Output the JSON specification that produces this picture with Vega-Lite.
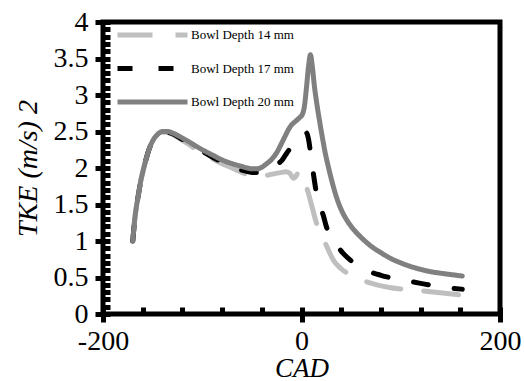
{
  "$schema": "https://vega.github.io/schema/vega-lite/v6.json",
  "width": 397,
  "height": 292,
  "autosize": {"type": "none"},
  "padding": {"left": 103, "top": 22, "right": 24, "bottom": 67},
  "config": {
    "font": "Liberation Serif",
    "view": {"stroke": "black", "strokeWidth": 5},
    "legend": {
      "orient": "none",
      "legendX": 12,
      "legendY": 3,
      "padding": 0,
      "symbolType": "stroke",
      "symbolSize": 4900,
      "symbolStrokeWidth": 5,
      "clipHeight": 20,
      "rowPadding": 13.5,
      "labelFont": "Liberation Serif",
      "labelFontSize": 13,
      "labelColor": "black",
      "labelOffset": 1
    }
  },
  "data": {
    "values": [
      {"series": "Bowl Depth 14 mm", "cad": -170, "tke": 1.00},
      {"series": "Bowl Depth 14 mm", "cad": -168, "tke": 1.30},
      {"series": "Bowl Depth 14 mm", "cad": -166, "tke": 1.50},
      {"series": "Bowl Depth 14 mm", "cad": -164, "tke": 1.66},
      {"series": "Bowl Depth 14 mm", "cad": -162, "tke": 1.82},
      {"series": "Bowl Depth 14 mm", "cad": -160, "tke": 1.94},
      {"series": "Bowl Depth 14 mm", "cad": -157, "tke": 2.10},
      {"series": "Bowl Depth 14 mm", "cad": -154, "tke": 2.24},
      {"series": "Bowl Depth 14 mm", "cad": -150, "tke": 2.37},
      {"series": "Bowl Depth 14 mm", "cad": -145, "tke": 2.46},
      {"series": "Bowl Depth 14 mm", "cad": -140, "tke": 2.49},
      {"series": "Bowl Depth 14 mm", "cad": -135, "tke": 2.49},
      {"series": "Bowl Depth 14 mm", "cad": -130, "tke": 2.46},
      {"series": "Bowl Depth 14 mm", "cad": -120, "tke": 2.38},
      {"series": "Bowl Depth 14 mm", "cad": -110, "tke": 2.29},
      {"series": "Bowl Depth 14 mm", "cad": -100, "tke": 2.21},
      {"series": "Bowl Depth 14 mm", "cad": -90, "tke": 2.13},
      {"series": "Bowl Depth 14 mm", "cad": -80, "tke": 2.06},
      {"series": "Bowl Depth 14 mm", "cad": -70, "tke": 2.00},
      {"series": "Bowl Depth 14 mm", "cad": -60, "tke": 1.94},
      {"series": "Bowl Depth 14 mm", "cad": -55, "tke": 1.91},
      {"series": "Bowl Depth 14 mm", "cad": -50, "tke": 1.90},
      {"series": "Bowl Depth 14 mm", "cad": -45, "tke": 1.89},
      {"series": "Bowl Depth 14 mm", "cad": -35, "tke": 1.90},
      {"series": "Bowl Depth 14 mm", "cad": -28, "tke": 1.92},
      {"series": "Bowl Depth 14 mm", "cad": -20, "tke": 1.94},
      {"series": "Bowl Depth 14 mm", "cad": -16, "tke": 1.95},
      {"series": "Bowl Depth 14 mm", "cad": -12, "tke": 1.93},
      {"series": "Bowl Depth 14 mm", "cad": -8, "tke": 1.86},
      {"series": "Bowl Depth 14 mm", "cad": -5, "tke": 1.90},
      {"series": "Bowl Depth 14 mm", "cad": -3, "tke": 1.95},
      {"series": "Bowl Depth 14 mm", "cad": 0, "tke": 1.91},
      {"series": "Bowl Depth 14 mm", "cad": 3, "tke": 1.81},
      {"series": "Bowl Depth 14 mm", "cad": 5, "tke": 1.74},
      {"series": "Bowl Depth 14 mm", "cad": 10, "tke": 1.50},
      {"series": "Bowl Depth 14 mm", "cad": 15, "tke": 1.25},
      {"series": "Bowl Depth 14 mm", "cad": 20, "tke": 1.10},
      {"series": "Bowl Depth 14 mm", "cad": 24, "tke": 0.97},
      {"series": "Bowl Depth 14 mm", "cad": 28, "tke": 0.85},
      {"series": "Bowl Depth 14 mm", "cad": 32, "tke": 0.74},
      {"series": "Bowl Depth 14 mm", "cad": 40, "tke": 0.62},
      {"series": "Bowl Depth 14 mm", "cad": 50, "tke": 0.53},
      {"series": "Bowl Depth 14 mm", "cad": 60, "tke": 0.47},
      {"series": "Bowl Depth 14 mm", "cad": 76, "tke": 0.40},
      {"series": "Bowl Depth 14 mm", "cad": 90, "tke": 0.36},
      {"series": "Bowl Depth 14 mm", "cad": 113, "tke": 0.33},
      {"series": "Bowl Depth 14 mm", "cad": 140, "tke": 0.29},
      {"series": "Bowl Depth 14 mm", "cad": 162, "tke": 0.26},

      {"series": "Bowl Depth 17 mm", "cad": -170, "tke": 1.00},
      {"series": "Bowl Depth 17 mm", "cad": -168, "tke": 1.30},
      {"series": "Bowl Depth 17 mm", "cad": -166, "tke": 1.50},
      {"series": "Bowl Depth 17 mm", "cad": -164, "tke": 1.66},
      {"series": "Bowl Depth 17 mm", "cad": -162, "tke": 1.82},
      {"series": "Bowl Depth 17 mm", "cad": -160, "tke": 1.94},
      {"series": "Bowl Depth 17 mm", "cad": -157, "tke": 2.10},
      {"series": "Bowl Depth 17 mm", "cad": -154, "tke": 2.24},
      {"series": "Bowl Depth 17 mm", "cad": -150, "tke": 2.37},
      {"series": "Bowl Depth 17 mm", "cad": -145, "tke": 2.46},
      {"series": "Bowl Depth 17 mm", "cad": -140, "tke": 2.50},
      {"series": "Bowl Depth 17 mm", "cad": -135, "tke": 2.49},
      {"series": "Bowl Depth 17 mm", "cad": -130, "tke": 2.47},
      {"series": "Bowl Depth 17 mm", "cad": -120, "tke": 2.39},
      {"series": "Bowl Depth 17 mm", "cad": -110, "tke": 2.31},
      {"series": "Bowl Depth 17 mm", "cad": -100, "tke": 2.23},
      {"series": "Bowl Depth 17 mm", "cad": -90, "tke": 2.15},
      {"series": "Bowl Depth 17 mm", "cad": -80, "tke": 2.08},
      {"series": "Bowl Depth 17 mm", "cad": -70, "tke": 2.02},
      {"series": "Bowl Depth 17 mm", "cad": -60, "tke": 1.97},
      {"series": "Bowl Depth 17 mm", "cad": -50, "tke": 1.94},
      {"series": "Bowl Depth 17 mm", "cad": -45, "tke": 1.94},
      {"series": "Bowl Depth 17 mm", "cad": -40, "tke": 1.95},
      {"series": "Bowl Depth 17 mm", "cad": -35, "tke": 1.97},
      {"series": "Bowl Depth 17 mm", "cad": -30, "tke": 2.00},
      {"series": "Bowl Depth 17 mm", "cad": -25, "tke": 2.05},
      {"series": "Bowl Depth 17 mm", "cad": -20, "tke": 2.10},
      {"series": "Bowl Depth 17 mm", "cad": -16, "tke": 2.18},
      {"series": "Bowl Depth 17 mm", "cad": -13, "tke": 2.24},
      {"series": "Bowl Depth 17 mm", "cad": -8, "tke": 2.29},
      {"series": "Bowl Depth 17 mm", "cad": -4, "tke": 2.32},
      {"series": "Bowl Depth 17 mm", "cad": 0, "tke": 2.37},
      {"series": "Bowl Depth 17 mm", "cad": 3, "tke": 2.45},
      {"series": "Bowl Depth 17 mm", "cad": 5, "tke": 2.48},
      {"series": "Bowl Depth 17 mm", "cad": 7, "tke": 2.40},
      {"series": "Bowl Depth 17 mm", "cad": 9, "tke": 2.22},
      {"series": "Bowl Depth 17 mm", "cad": 12, "tke": 1.92},
      {"series": "Bowl Depth 17 mm", "cad": 15, "tke": 1.66},
      {"series": "Bowl Depth 17 mm", "cad": 18, "tke": 1.50},
      {"series": "Bowl Depth 17 mm", "cad": 22, "tke": 1.35},
      {"series": "Bowl Depth 17 mm", "cad": 25, "tke": 1.20},
      {"series": "Bowl Depth 17 mm", "cad": 29, "tke": 1.08},
      {"series": "Bowl Depth 17 mm", "cad": 35, "tke": 0.95},
      {"series": "Bowl Depth 17 mm", "cad": 42, "tke": 0.83},
      {"series": "Bowl Depth 17 mm", "cad": 50, "tke": 0.73},
      {"series": "Bowl Depth 17 mm", "cad": 56, "tke": 0.67},
      {"series": "Bowl Depth 17 mm", "cad": 65, "tke": 0.60},
      {"series": "Bowl Depth 17 mm", "cad": 80, "tke": 0.53},
      {"series": "Bowl Depth 17 mm", "cad": 96, "tke": 0.48},
      {"series": "Bowl Depth 17 mm", "cad": 120, "tke": 0.42},
      {"series": "Bowl Depth 17 mm", "cad": 136, "tke": 0.38},
      {"series": "Bowl Depth 17 mm", "cad": 162, "tke": 0.34},

      {"series": "Bowl Depth 20 mm", "cad": -170, "tke": 1.00},
      {"series": "Bowl Depth 20 mm", "cad": -168, "tke": 1.30},
      {"series": "Bowl Depth 20 mm", "cad": -166, "tke": 1.50},
      {"series": "Bowl Depth 20 mm", "cad": -164, "tke": 1.66},
      {"series": "Bowl Depth 20 mm", "cad": -162, "tke": 1.82},
      {"series": "Bowl Depth 20 mm", "cad": -160, "tke": 1.94},
      {"series": "Bowl Depth 20 mm", "cad": -157, "tke": 2.10},
      {"series": "Bowl Depth 20 mm", "cad": -154, "tke": 2.24},
      {"series": "Bowl Depth 20 mm", "cad": -150, "tke": 2.37},
      {"series": "Bowl Depth 20 mm", "cad": -145, "tke": 2.46},
      {"series": "Bowl Depth 20 mm", "cad": -140, "tke": 2.50},
      {"series": "Bowl Depth 20 mm", "cad": -135, "tke": 2.50},
      {"series": "Bowl Depth 20 mm", "cad": -130, "tke": 2.48},
      {"series": "Bowl Depth 20 mm", "cad": -120, "tke": 2.41},
      {"series": "Bowl Depth 20 mm", "cad": -110, "tke": 2.33},
      {"series": "Bowl Depth 20 mm", "cad": -100, "tke": 2.25},
      {"series": "Bowl Depth 20 mm", "cad": -90, "tke": 2.18},
      {"series": "Bowl Depth 20 mm", "cad": -80, "tke": 2.11},
      {"series": "Bowl Depth 20 mm", "cad": -70, "tke": 2.06},
      {"series": "Bowl Depth 20 mm", "cad": -60, "tke": 2.02},
      {"series": "Bowl Depth 20 mm", "cad": -50, "tke": 1.99},
      {"series": "Bowl Depth 20 mm", "cad": -45, "tke": 1.99},
      {"series": "Bowl Depth 20 mm", "cad": -40, "tke": 2.01},
      {"series": "Bowl Depth 20 mm", "cad": -36, "tke": 2.05},
      {"series": "Bowl Depth 20 mm", "cad": -30, "tke": 2.12},
      {"series": "Bowl Depth 20 mm", "cad": -25, "tke": 2.21},
      {"series": "Bowl Depth 20 mm", "cad": -20, "tke": 2.34},
      {"series": "Bowl Depth 20 mm", "cad": -16, "tke": 2.45},
      {"series": "Bowl Depth 20 mm", "cad": -13, "tke": 2.53},
      {"series": "Bowl Depth 20 mm", "cad": -10, "tke": 2.59},
      {"series": "Bowl Depth 20 mm", "cad": -6, "tke": 2.64},
      {"series": "Bowl Depth 20 mm", "cad": -2, "tke": 2.69},
      {"series": "Bowl Depth 20 mm", "cad": 1, "tke": 2.74},
      {"series": "Bowl Depth 20 mm", "cad": 3, "tke": 2.85},
      {"series": "Bowl Depth 20 mm", "cad": 5, "tke": 3.10},
      {"series": "Bowl Depth 20 mm", "cad": 7, "tke": 3.38},
      {"series": "Bowl Depth 20 mm", "cad": 9, "tke": 3.55},
      {"series": "Bowl Depth 20 mm", "cad": 11, "tke": 3.38},
      {"series": "Bowl Depth 20 mm", "cad": 13, "tke": 3.12},
      {"series": "Bowl Depth 20 mm", "cad": 15, "tke": 2.92},
      {"series": "Bowl Depth 20 mm", "cad": 18, "tke": 2.66},
      {"series": "Bowl Depth 20 mm", "cad": 20.5, "tke": 2.46},
      {"series": "Bowl Depth 20 mm", "cad": 24, "tke": 2.20},
      {"series": "Bowl Depth 20 mm", "cad": 27, "tke": 2.02},
      {"series": "Bowl Depth 20 mm", "cad": 31, "tke": 1.80},
      {"series": "Bowl Depth 20 mm", "cad": 35, "tke": 1.61},
      {"series": "Bowl Depth 20 mm", "cad": 40, "tke": 1.43},
      {"series": "Bowl Depth 20 mm", "cad": 45, "tke": 1.30},
      {"series": "Bowl Depth 20 mm", "cad": 50, "tke": 1.20},
      {"series": "Bowl Depth 20 mm", "cad": 55, "tke": 1.12},
      {"series": "Bowl Depth 20 mm", "cad": 60, "tke": 1.05},
      {"series": "Bowl Depth 20 mm", "cad": 70, "tke": 0.93},
      {"series": "Bowl Depth 20 mm", "cad": 80, "tke": 0.84},
      {"series": "Bowl Depth 20 mm", "cad": 90, "tke": 0.76},
      {"series": "Bowl Depth 20 mm", "cad": 100, "tke": 0.70},
      {"series": "Bowl Depth 20 mm", "cad": 115, "tke": 0.63},
      {"series": "Bowl Depth 20 mm", "cad": 130, "tke": 0.58},
      {"series": "Bowl Depth 20 mm", "cad": 145, "tke": 0.55},
      {"series": "Bowl Depth 20 mm", "cad": 162, "tke": 0.52}
    ]
  },
  "mark": {"type": "line", "strokeWidth": 5, "strokeCap": "round", "strokeJoin": "round", "interpolate": "monotone"},
  "encoding": {
    "x": {
      "field": "cad",
      "type": "quantitative",
      "scale": {"domain": [-200, 200], "nice": false, "zero": false},
      "axis": {
        "values": [-200, -160, -120, -80, -40, 0, 40, 80, 120, 160, 200],
        "labelExpr": "datum.value % 200 === 0 ? '' + datum.value : ''",
        "labelFlush": false,
        "labelOverlap": false,
        "labelFont": "Liberation Serif",
        "labelFontSize": 28,
        "labelColor": "black",
        "labelPadding": 5,
        "grid": false,
        "domain": false,
        "offset": -7,
        "tickColor": "black",
        "tickWidth": 5,
        "tickSize": {"condition": {"test": "datum.value % 200 === 0", "value": 15}, "value": 7},
        "title": "CAD",
        "titleFont": "Liberation Serif",
        "titleFontSize": 27,
        "titleFontStyle": "italic",
        "titleFontWeight": "normal",
        "titleColor": "#000000",
        "titlePadding": 0
      }
    },
    "y": {
      "field": "tke",
      "type": "quantitative",
      "scale": {"domain": [0, 4], "nice": false},
      "axis": {
        "values": [0, 0.1, 0.2, 0.3, 0.4, 0.5, 0.6, 0.7, 0.8, 0.9, 1, 1.1, 1.2, 1.3, 1.4, 1.5, 1.6, 1.7, 1.8, 1.9, 2, 2.1, 2.2, 2.3, 2.4, 2.5, 2.6, 2.7, 2.8, 2.9, 3, 3.1, 3.2, 3.3, 3.4, 3.5, 3.6, 3.7, 3.8, 3.9, 4],
        "labelExpr": "abs(datum.value * 2 - round(datum.value * 2)) < 0.001 ? '' + datum.value : ''",
        "labelFlush": false,
        "labelOverlap": false,
        "labelFont": "Liberation Serif",
        "labelFontSize": 28,
        "labelColor": "black",
        "labelPadding": 7,
        "grid": false,
        "domain": false,
        "offset": -7,
        "tickColor": "black",
        "tickWidth": 5,
        "tickSize": {"condition": {"test": "abs(datum.value * 2 - round(datum.value * 2)) < 0.001", "value": 15}, "value": 7},
        "title": "TKE (m/s) 2",
        "titleFont": "Liberation Serif",
        "titleFontSize": 28,
        "titleFontStyle": "italic",
        "titleFontWeight": "normal",
        "titleColor": "#000000",
        "titlePadding": 11
      }
    },
    "color": {
      "field": "series",
      "type": "nominal",
      "scale": {
        "domain": ["Bowl Depth 14 mm", "Bowl Depth 17 mm", "Bowl Depth 20 mm"],
        "range": ["#bfbfbf", "#000000", "#808080"]
      },
      "legend": {"title": null}
    },
    "strokeDash": {
      "field": "series",
      "type": "nominal",
      "scale": {
        "domain": ["Bowl Depth 14 mm", "Bowl Depth 17 mm", "Bowl Depth 20 mm"],
        "range": [[35, 23], [15, 26], [1, 0]]
      },
      "legend": {"title": null}
    }
  }
}
